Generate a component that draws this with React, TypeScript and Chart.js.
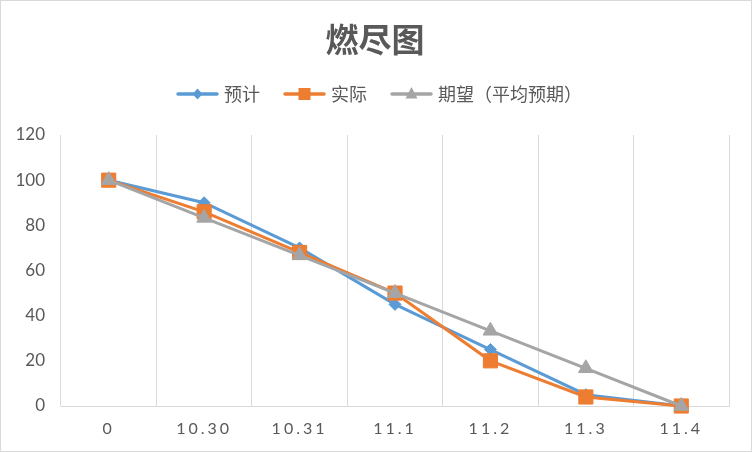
import React, { useEffect, useRef } from "react";
import { Chart, registerables } from "chart.js";

Chart.register(...registerables);

const categories = ["0", "10.30", "10.31", "11.1", "11.2", "11.3", "11.4"];
const estimated = [100, 90, 70, 45, 25, 5, 0];
const actual = [100, 86, 68, 50, 20, 4, 0];
const expected = [100, 83.3, 66.7, 50, 33.3, 16.7, 0];
const seriesNames = ["预计", "实际", "期望（平均预期）"];
const titleText = "燃尽图";
const yMin = 0;
const yMax = 120;
const yStep = 20;

const BLUE = "#5B9BD5";
const ORANGE = "#ED7D31";
const GRAY = "#A5A5A5";
const TEXT = "#595959";
const GRID = "#D9D9D9";
const FONT = "Lato, 'Noto Sans CJK SC', sans-serif";
const CJK = "'Noto Sans CJK SC', Lato, sans-serif";

function makeIcon(color: string, kind: string): HTMLCanvasElement {
  const c = document.createElement("canvas");
  c.width = 43;
  c.height = 18;
  const ctx = c.getContext("2d")!;
  ctx.strokeStyle = color;
  ctx.fillStyle = color;
  ctx.lineWidth = 3.5;
  ctx.lineCap = "round";
  ctx.beginPath();
  ctx.moveTo(2, 9);
  ctx.lineTo(41, 9);
  ctx.stroke();
  const cx = 21.5, cy = 9;
  ctx.beginPath();
  if (kind === "diamond") {
    ctx.moveTo(cx, cy - 5.5);
    ctx.lineTo(cx + 5, cy);
    ctx.lineTo(cx, cy + 5.5);
    ctx.lineTo(cx - 5, cy);
  } else if (kind === "square") {
    ctx.rect(cx - 6, cy - 6, 12, 12);
  } else {
    ctx.moveTo(cx, cy - 7);
    ctx.lineTo(cx + 6, cy + 4.5);
    ctx.lineTo(cx - 6, cy + 4.5);
  }
  ctx.closePath();
  ctx.fill();
  return c;
}

export default function App() {
  const ref = useRef<HTMLCanvasElement | null>(null);

  useEffect(() => {
    if (!ref.current) return;
    const icons = [makeIcon(BLUE, "diamond"), makeIcon(ORANGE, "square"), makeIcon(GRAY, "triangle")];
    const colors = [BLUE, ORANGE, GRAY];

    const tweakPlugin = {
      id: "tweaks",
      afterLayout(chart: any) {
        const sc = chart.scales.x;
        if (sc && !sc.__patched) {
          const orig = sc.drawLabels;
          sc.drawLabels = function (area: any) {
            const ctx = this.ctx;
            ctx.save();
            (ctx as any).letterSpacing = "3px";
            orig.call(this, area);
            ctx.restore();
          };
          sc.__patched = true;
        }
        const lg = chart.legend;
        if (lg) {
          lg.left += 16;
          lg.right += 16;
        }
        const tb = chart.titleBlock;
        if (tb) {
          tb.left += 10;
          tb.right += 10;
        }
      },
    };

    const chart = new Chart(ref.current, {
      type: "line",
      data: {
        labels: categories,
        datasets: [
          {
            label: seriesNames[0],
            data: estimated,
            borderColor: BLUE,
            backgroundColor: BLUE,
            borderWidth: 3,
            pointStyle: "rectRot",
            pointRadius: 6,
            pointBorderWidth: 1,
            pointBackgroundColor: BLUE,
            pointBorderColor: BLUE,
            tension: 0,
            clip: false as any,
            order: 3,
          },
          {
            label: seriesNames[1],
            data: actual,
            borderColor: ORANGE,
            backgroundColor: ORANGE,
            borderWidth: 3,
            pointStyle: "rect",
            pointRadius: 10,
            pointBorderWidth: 1,
            pointBackgroundColor: ORANGE,
            pointBorderColor: ORANGE,
            tension: 0,
            clip: false as any,
            order: 2,
          },
          {
            label: seriesNames[2],
            data: expected,
            borderColor: GRAY,
            backgroundColor: GRAY,
            borderWidth: 3,
            pointStyle: "triangle",
            pointRadius: 8.5,
            pointBorderWidth: 1,
            pointBackgroundColor: GRAY,
            pointBorderColor: GRAY,
            tension: 0,
            clip: false as any,
            order: 1,
          },
        ],
      },
      options: {
        animation: false,
        responsive: false,
        maintainAspectRatio: false,
        layout: { padding: { left: 0, right: 22, top: 0, bottom: 0 } },
        plugins: {
          title: {
            display: true,
            text: titleText,
            color: TEXT,
            font: { family: CJK, size: 33, weight: "bold", lineHeight: 1 },
            padding: { top: 22, bottom: 2 },
          },
          subtitle: {
            display: true,
            text: "",
            position: "top",
            weight: 500,
            font: { size: 10, lineHeight: 1 },
            padding: { top: 6, bottom: 6 },
          } as any,
          legend: {
            display: true,
            position: "top",
            labels: {
              usePointStyle: true,
              pointStyleWidth: 35,
              boxHeight: 18,
              padding: 27,
              color: TEXT,
              font: { family: CJK, size: 18 },
              generateLabels: () =>
                seriesNames.map((name, i) => ({
                  text: name,
                  fillStyle: colors[i],
                  strokeStyle: colors[i],
                  lineWidth: 0,
                  pointStyle: icons[i] as any,
                  datasetIndex: i,
                  hidden: false,
                  fontColor: TEXT,
                })),
            },
          },
          tooltip: { enabled: false },
        },
        scales: {
          x: {
            offset: true,
            grid: { display: true, offset: true, color: GRID, lineWidth: 1, drawTicks: false },
            border: { display: true, color: GRID, width: 1 },
            ticks: { color: TEXT, font: { family: FONT, size: 16 }, padding: 13 },
            afterFit: (s: any) => {
              s.height = 45;
            },
          },
          y: {
            min: yMin,
            max: yMax,
            grid: { display: false, drawTicks: false },
            border: { display: false },
            ticks: { stepSize: yStep, color: TEXT, font: { family: FONT, size: 17 }, padding: 16 },
            afterFit: (s: any) => {
              s.width = 60;
            },
          },
        },
      },
      plugins: [tweakPlugin],
    } as any);

    return () => chart.destroy();
  }, []);

  return (
    <div
      style={{
        position: "absolute",
        left: 0,
        top: 0,
        width: 752,
        height: 452,
        boxSizing: "border-box",
        border: "1px solid #D9D9D9",
        background: "#fff",
      }}
    >
      <canvas ref={ref} width={750} height={450} style={{ display: "block", width: 750, height: 450 }} />
    </div>
  );
}
